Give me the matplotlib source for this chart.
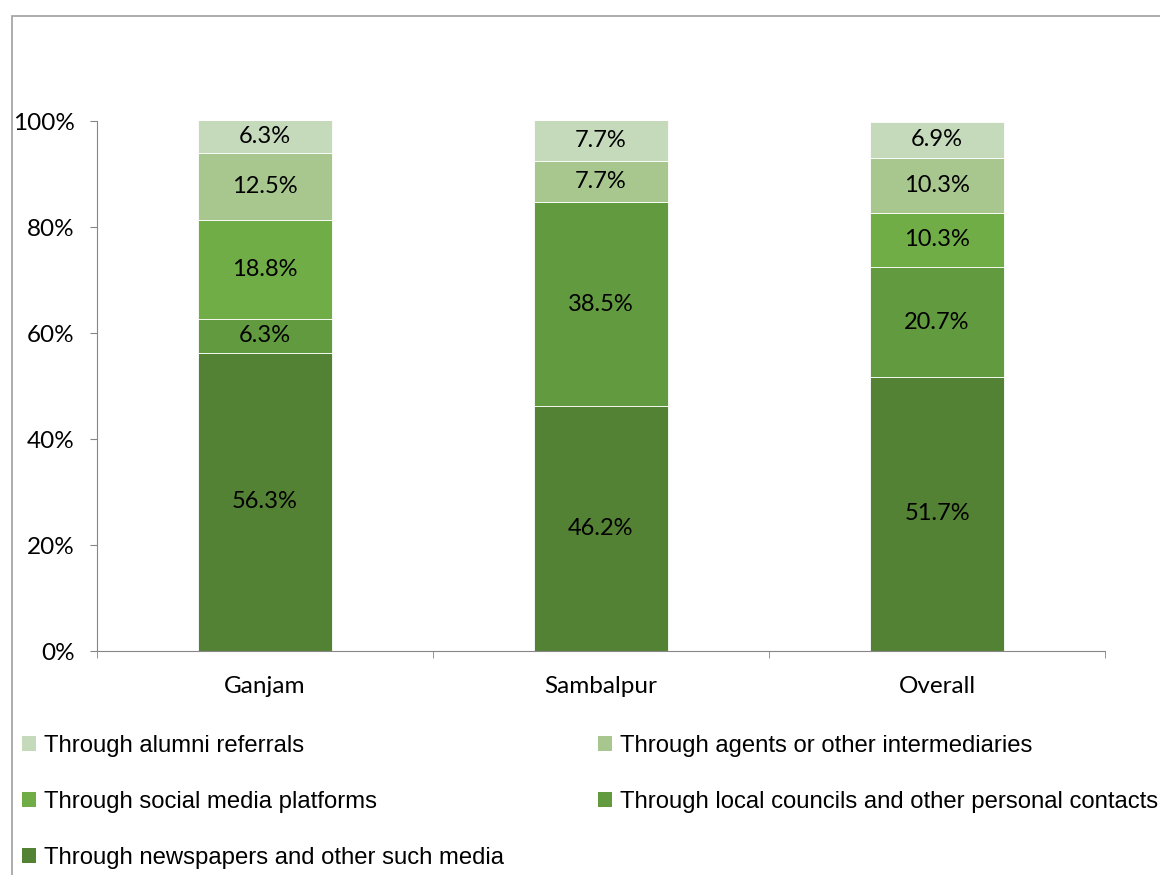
import matplotlib.pyplot as plt
from matplotlib.patches import Rectangle, Patch
from matplotlib.ticker import PercentFormatter
import numpy as np

categories = ['Ganjam', 'Sambalpur', 'Overall']
series_names = [
    'Through newspapers and other such media',
    'Through local councils and other personal contacts',
    'Through social media platforms',
    'Through agents or other intermediaries',
    'Through alumni referrals',
]
newspapers = [56.3, 46.2, 51.7]
local_contacts = [6.3, 38.5, 20.7]
social_media = [18.8, 0.0, 10.3]
agents = [12.5, 7.7, 10.3]
alumni = [6.3, 7.7, 6.9]
colors = ['#548235', '#619a3f', '#70ad47', '#a7c78f', '#c5d9bb']

series = [newspapers, local_contacts, social_media, agents, alumni]

fig = plt.figure(figsize=(11.6, 8.75), dpi=100)
ax = fig.add_axes([97 / 1160, 1 - 651 / 875, (1105 - 97) / 1160, (651 - 121) / 875])

x = np.arange(len(categories))
bottom = np.zeros(len(categories))
for vals, col, name in zip(series, colors, series_names):
    v = np.array(vals)
    ax.bar(x, v, 0.4, bottom=bottom, color=col, edgecolor='white',
           linewidth=0.6, label=name)
    for xi, vi, bi in zip(x, v, bottom):
        if vi > 0:
            ax.text(xi, bi + vi / 2, f'{vi:.1f}%', ha='center', va='center',
                    fontsize=17, family='Lato', color='black')
    bottom += v

ax.set_xlim(-0.5, 2.5)
ax.set_ylim(0, 100)
ax.set_yticks(np.arange(0, 101, 20))
ax.yaxis.set_major_formatter(PercentFormatter(decimals=0))
ax.set_xticks(x)
ax.set_xticklabels(categories)
ax.set_xticks([-0.5, 0.5, 1.5, 2.5], minor=True)
ax.tick_params(axis='x', which='major', length=0, pad=18)
ax.tick_params(axis='x', which='minor', length=5, color='#868686')
ax.tick_params(axis='y', length=5, color='#868686', pad=11)
for lab in ax.get_xticklabels() + ax.get_yticklabels():
    lab.set_fontfamily('Lato')
    lab.set_fontsize(17.5)
for s in ['top', 'right']:
    ax.spines[s].set_visible(False)
for s in ['left', 'bottom']:
    ax.spines[s].set_color('#868686')

# outer chart border
fig.patches.append(Rectangle((12 / 1160, -0.1), 1.2, 1 - 16 / 875 + 0.1,
                             transform=fig.transFigure, fill=False,
                             edgecolor='#a0a0a0', linewidth=1.2))

# legend in two columns
def make_legend(idx, x0):
    handles = [Patch(facecolor=colors[i], edgecolor='none') for i in idx]
    labels = [series_names[i] for i in idx]
    lg = fig.legend(handles, labels, loc='upper left',
                    bbox_to_anchor=(x0 / 1160, 1 - 735 / 875),
                    frameon=False, handlelength=0.6, handleheight=0.6,
                    handletextpad=0.3, labelspacing=1.42, borderaxespad=0,
                    borderpad=0, prop={'family': 'Liberation Sans', 'size': 17.2})
    return lg

make_legend([4, 2, 0], 22)
make_legend([3, 1], 598)

fig.savefig('out.png', dpi=100)
